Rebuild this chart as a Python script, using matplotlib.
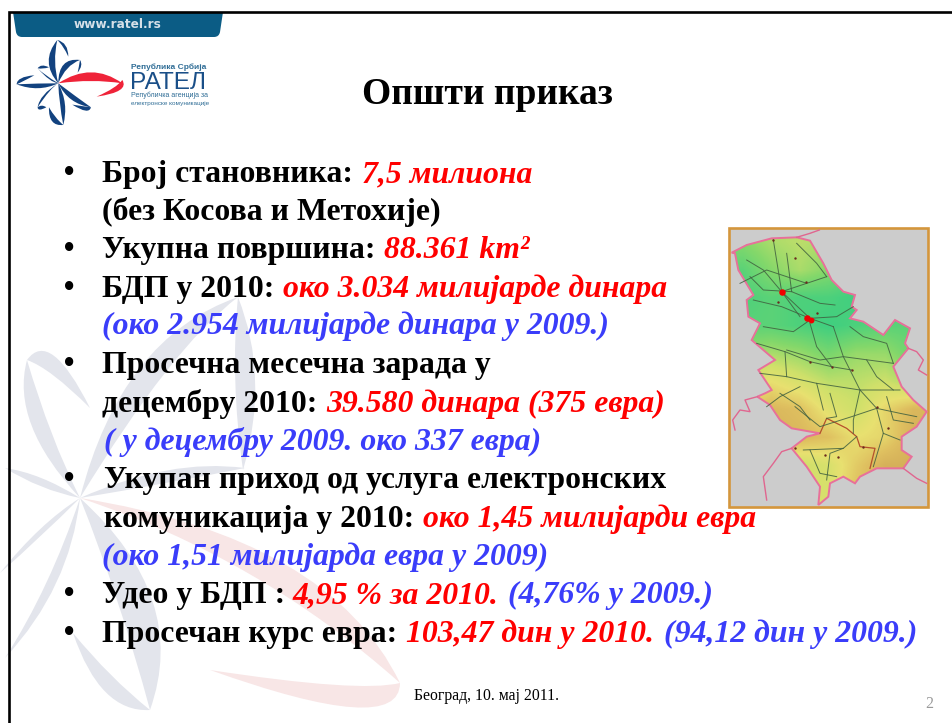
"""Slide "Општи приказ" redrawn with matplotlib on a pixel-sized axes."""

import numpy as np
import matplotlib
matplotlib.use("Agg")
import matplotlib.pyplot as plt
from matplotlib.colors import LinearSegmentedColormap
from matplotlib.patches import PathPatch, Polygon, Rectangle
from matplotlib.path import Path

W, H = 952, 723
SERIF = "Liberation Serif"
SANS = "Liberation Sans"
BLACK, RED, BLUE = "#000000", "#ff0000", "#3a3dfa"

# ── slide text ───────────────────────────────────────────────────────────────
BULLET_Y = [183, 259, 298, 374, 489, 604, 643]
ROW_Y = [182, 220, 258, 297, 334, 373, 412, 450, 488, 527, 565, 603, 642]
ROW_RUNS = [
    [("Број становника:", 102, "b"), ("7,5 милиона", 362, "r")],
    [("(без Косова и Метохије)", 102, "b")],
    [("Укупна површина:", 102, "b"), ("88.361 km²", 384, "r")],
    [("БДП у 2010:", 102, "b"), ("око 3.034 милијарде динара", 283, "r")],
    [("(око 2.954 милијарде динара у 2009.)", 102, "i")],
    [("Просечна месечна зарада у", 102, "b")],
    [("децембру 2010:", 102, "b"), ("39.580 динара (375 евра)", 326, "r")],
    [("( у децембру 2009. око 337 евра)", 104, "i")],
    [("Укупан приход од услуга електронских", 104, "b")],
    [("комуникација у 2010:", 104, "b"), ("око 1,45 милијарди евра", 423, "r")],
    [("(око 1,51 милијарда евра у 2009)", 102, "i")],
    [("Удео у БДП :", 102, "b"), ("4,95 % за 2010.", 292, "r"), ("(4,76% у 2009.)", 508, "i")],
    [("Просечан курс евра:", 102, "b"), ("103,47 дин у 2010.", 406, "r"), ("(94,12 дин у 2009.)", 664, "i")],
]
RUN_STYLE = {"b": (BLACK, "normal"), "r": (RED, "italic"), "i": (BLUE, "italic")}

# ── logo and watermark petals: (start, ctrl, end, ctrl back), relative to centre
LOGO_BLUE = [
    ((0, 0), (-56, -65), (-3, -130), (-18, -65)),
    ((-3, -130), (30, -122), (30, -80), (16, -112)),
    ((0, 0), (0, -78), (65, -70), (22, -54)),
    ((65, -70), (76, -55), (58, -32), (62, -50)),
    ((0, 0), (30, 62), (98, 72), (50, 38)),
    ((98, 72), (92, 96), (42, 64), (82, 70)),
    ((0, 0), (32, 60), (15, 125), (2, 60)),
    ((15, 125), (-30, 130), (-28, 72), (-10, 104)),
    ((0, 0), (-24, 14), (-62, 72), (-56, 34)),
    ((-62, 72), (-62, 86), (-36, 72), (-50, 62)),
    ((0, 0), (-60, 28), (-125, 3), (-60, 0)),
    ((-125, 3), (-124, -20), (-72, -24), (-104, -6)),
    ((0, 0), (-24, -2), (-62, -45), (-44, -26)),
    ((-62, -45), (-52, -60), (-28, -48), (-46, -42)),
]
LOGO_RED = [
    ((0, 0), (100, -66), (192, 0), (100, -14)),
    ((192, -10), (215, 26), (115, 40), (175, 14)),
]
MARK_GREY = [
    ((0, 0), (41, -160), (158, -201), (91, -150)),
    ((158, -201), (190, -120), (163, -28), (150, -120)),
    ((0, 0), (90, -15), (165, -30), (90, -40)),
    ((0, 0), (-70, -75), (-53, -138), (-30, -60)),
    ((-53, -138), (-30, -170), (10, -90), (-30, -130)),
    ((0, 0), (-40, -8), (-75, -30), (-40, -25)),
    ((0, 0), (-40, 25), (-80, 75), (-40, 40)),
    ((0, 0), (-10, 90), (-75, 160), (-30, 90)),
    ((0, 0), (110, 100), (70, 212), (40, 100)),
    ((70, 212), (20, 215), (-7, 135), (30, 180)),
]
MARK_RED = [
    ((0, 0), (250, 40), (320, 185), (180, 60)),
    ((320, 185), (320, 240), (130, 172), (280, 195)),
]

# ── map: outline, neighbours and rivers in crop pixels of the 3x zoom
MAP_BOX = (729, 228, 928, 507)
OUTLINE = [
    (35, 98), (80, 75), (155, 55), (230, 52), (270, 62), (310, 130), (335, 180),
    (370, 215), (405, 225), (395, 260), (410, 270), (390, 295), (430, 305),
    (490, 345), (525, 300), (570, 325), (555, 370), (565, 385), (520, 440),
    (545, 500), (580, 540), (620, 575), (590, 620), (545, 650), (545, 690),
    (575, 710), (550, 745), (470, 745), (420, 770), (405, 790), (370, 770),
    (330, 790), (325, 830), (295, 855), (300, 800), (260, 740), (215, 685),
    (260, 650), (300, 640), (215, 625), (180, 600), (150, 555), (112, 530),
    (135, 520), (155, 510), (115, 450), (165, 420), (95, 360), (120, 310),
    (85, 290), (80, 240), (100, 225), (55, 150), (45, 100),
]
BORDERS = [
    [(230, 52), (270, 40), (298, 30)],
    [(565, 385), (590, 395), (610, 420), (595, 450), (620, 465)],
    [(112, 530), (75, 540), (90, 575), (60, 570), (38, 600), (45, 630)],
    [(215, 685), (185, 695), (160, 730), (130, 770), (140, 840)],
    [(550, 745), (590, 775), (620, 790)],
]
KOSOVO_LINE = [(300, 640), (320, 595), (380, 625), (410, 650), (420, 680), (465, 685), (450, 745)]
RIVERS = [
    [(185, 215), (260, 190), (320, 170)],
    [(80, 120), (130, 150), (185, 215), (270, 295), (340, 320)],
    [(160, 60), (185, 215), (240, 290)],
    [(100, 240), (185, 260), (270, 295), (350, 290), (400, 260)],
    [(340, 320), (370, 410), (420, 510), (470, 565), (490, 640), (460, 740)],
    [(200, 390), (300, 420), (370, 410), (520, 430)],
    [(290, 490), (420, 510), (540, 510)],
    [(225, 560), (300, 620), (395, 590), (470, 565)],
    [(120, 460), (200, 470), (290, 490), (310, 570)],
    [(250, 690), (370, 685), (410, 650)],
    [(320, 780), (330, 700), (370, 685)],
    [(200, 100), (215, 215), (300, 250), (345, 255)],
    [(60, 190), (140, 150), (260, 190)],
    [(270, 310), (290, 380), (335, 440), (395, 450)],
    [(130, 320), (220, 335), (270, 300)],
    [(390, 320), (430, 350), (500, 370), (520, 430)],
    [(470, 565), (540, 580), (590, 590)],
    [(180, 520), (240, 560), (270, 600)],
    [(420, 510), (400, 600), (400, 640)],
    [(490, 640), (540, 660)],
    [(270, 690), (300, 760), (350, 770)],
    [(110, 370), (195, 395), (200, 470)],
    [(195, 395), (270, 425), (335, 440)],
    [(440, 420), (470, 470), (520, 510)],
    [(140, 560), (180, 530), (240, 500)],
    [(330, 520), (350, 590), (320, 595)],
    [(500, 530), (520, 600), (580, 610)],
    [(230, 70), (290, 130), (320, 170)],
    [(90, 170), (130, 210), (215, 215)],
]
TOWN_X = [158, 258, 225, 335, 395, 270, 470, 315, 355, 430, 225, 505, 290, 175]
TOWN_Y = [60, 187, 115, 440, 450, 425, 560, 705, 710, 680, 685, 625, 280, 245]
MAP_CITIES = [(185, 215, 22), (262, 294, 22), (272, 300, 18)]
MAP_STOPS = [(0.0, "#3fcf80"), (0.25, "#86d86a"), (0.45, "#cfe06a"),
             (0.6, "#e8e070"), (0.75, "#dfc060"), (1.0, "#c89a50")]
RELIEF = [
    [.25, .35, .40, .35, .20, .20, .20],
    [.10, .25, .35, .25, .10, .10, .10],
    [.05, .10, .05, .05, .00, .00, .00],
    [.10, .10, .05, .00, .05, .10, .10],
    [.30, .35, .30, .20, .30, .30, .15],
    [.50, .60, .50, .40, .40, .45, .35],
    [.70, .80, .75, .55, .45, .65, .80],
    [.85, .85, .80, .75, .60, .65, .85],
    [.70, .55, .45, .50, .70, .85, .85],
    [.70, .60, .50, .50, .75, .85, .85],
]


def _crescents(ax, petals, cx, cy, scale, color, **kw):
    for p0, k1, p1, k2 in petals:
        pts = np.array([p0, k1, p1, k2, p0], dtype=float) * scale + (cx, cy)
        codes = [Path.MOVETO, Path.CURVE3, Path.CURVE3, Path.CURVE3, Path.CURVE3]
        ax.add_patch(PathPatch(Path(pts, codes), fc=color, ec="none", **kw))


def _map_px(points):
    pts = np.array(points, dtype=float)
    return pts / 3 + (720, 220)


def _draw_map(ax):
    x0, y0, x1, y1 = MAP_BOX
    ax.add_patch(Rectangle((x0, y0), x1 - x0, y1 - y0, fc="#cccccc", ec="#d4963c", lw=1.9, zorder=3))
    shape = Polygon(_map_px(OUTLINE), closed=True, fc="none", ec="#e8709a", lw=1.4, zorder=5)
    ax.add_patch(shape)
    cmap = LinearSegmentedColormap.from_list("relief", MAP_STOPS)
    im = ax.imshow(np.array(RELIEF), cmap=cmap, vmin=0, vmax=1, extent=(x0, x1, y1, y0),
                   aspect="auto", interpolation="bilinear", zorder=4)
    im.set_clip_path(shape)
    for line in BORDERS:
        xy = _map_px(line)
        ax.plot(xy[:, 0], xy[:, 1], color="#e0668f", lw=1.0, zorder=5)
    xy = _map_px(KOSOVO_LINE)
    ax.plot(xy[:, 0], xy[:, 1], color="#b5502c", lw=0.9, zorder=5)
    for line in RIVERS:
        xy = _map_px(line)
        ax.plot(xy[:, 0], xy[:, 1], color="#3f5f3f", lw=0.7, alpha=0.85, zorder=5)
    towns = _map_px(list(zip(TOWN_X, TOWN_Y)))
    ax.scatter(towns[:, 0], towns[:, 1], s=3, color="#6b2a1e", lw=0, zorder=6)
    for cx, cy, size in MAP_CITIES:
        xy = _map_px([(cx, cy)])
        ax.scatter(xy[:, 0], xy[:, 1], s=size, color="#f00000", lw=0, zorder=6)


def _draw_header(ax):
    ax.plot([8.5, 8.5, W], [H, 12, 12], color="black", lw=1.9, zorder=8, solid_joinstyle="miter")
    tab = Path(
        [(13, 12), (223, 12), (220, 32), (219, 37), (214, 37), (22, 37), (17, 37), (16, 32), (13, 12)],
        [Path.MOVETO, Path.LINETO, Path.LINETO, Path.CURVE3, Path.CURVE3,
         Path.LINETO, Path.CURVE3, Path.CURVE3, Path.CLOSEPOLY],
    )
    ax.add_patch(PathPatch(tab, fc="#0b5c85", ec="none", zorder=2))
    ax.text(118, 24, "www.ratel.rs", color="#d5e0e8", family="DejaVu Sans", fontweight="bold",
            fontsize=8.7, ha="center", va="center", zorder=4)
    _crescents(ax, LOGO_BLUE, 58.3, 83.3, 1 / 3, "#12427f", zorder=4)
    _crescents(ax, LOGO_RED, 58.3, 83.3, 1 / 3, "#ef2339", zorder=4)
    ax.text(131, 69, "Република Србија", color="#2f6d96", family=SANS,
            fontsize=6.0, fontweight="bold", zorder=4)
    ax.text(130, 89, "РАТЕЛ", color="#1a4f88", family=SANS, fontsize=17.6, zorder=4)
    ax.text(131, 97, "Републичка агенција за", color="#2f6d96", family=SANS,
            fontsize=5.0, zorder=4)
    ax.text(131, 105, "електронске комуникације", color="#2f6d96", family=SANS,
            fontsize=4.55, zorder=4)


def main():
    fig = plt.figure(figsize=(W / 100, H / 100), dpi=100, facecolor="white")
    ax = fig.add_axes([0, 0, 1, 1])
    ax.set_xlim(0, W)
    ax.set_ylim(H, 0)
    ax.axis("off")

    _crescents(ax, MARK_GREY, 80, 498, 1.0, "#e3e5ec", zorder=1)
    _crescents(ax, MARK_RED, 80, 498, 1.0, "#f8e6e6", zorder=1)
    _draw_header(ax)
    _draw_map(ax)

    ax.text(487, 104, "Општи приказ", family=SERIF, fontweight="bold", fontsize=27,
            ha="center", va="baseline", zorder=9)
    for y in BULLET_Y:
        ax.text(69, y, "•", family=SERIF, fontsize=25, ha="center", va="baseline", zorder=9)
    for y, runs in zip(ROW_Y, ROW_RUNS):
        for text, x, style in runs:
            color, slant = RUN_STYLE[style]
            ax.text(x, y, text, family=SERIF, fontweight="bold", style=slant, color=color,
                    fontsize=22.9, va="baseline", zorder=9)

    ax.text(414, 700, "Београд, 10. мај 2011.", family=SERIF, fontsize=11.3, va="baseline", zorder=9)
    ax.text(925, 708, "2", family=SERIF, fontsize=11.3, color="#999999", va="baseline", zorder=9)

    ax.set_xlim(0, W)
    ax.set_ylim(H, 0)
    fig.savefig("out.png", dpi=100)


if __name__ == "__main__":
    main()
